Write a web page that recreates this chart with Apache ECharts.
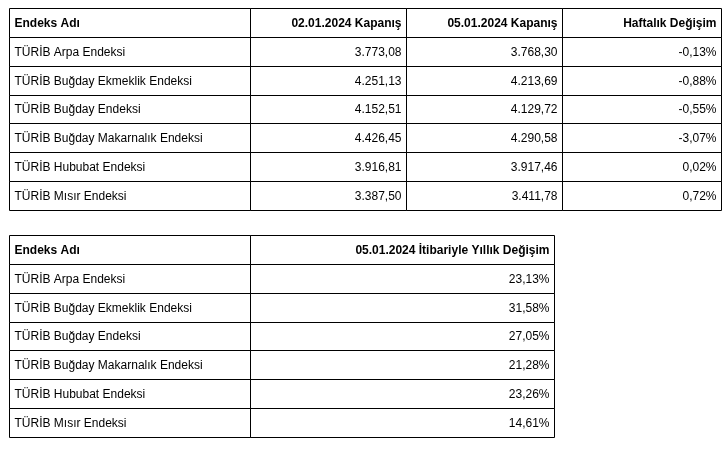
<!DOCTYPE html>
<html>
<head>
<meta charset="utf-8">
<script src="https://cdn.jsdelivr.net/npm/echarts@6/dist/echarts.min.js"></script>
<style>
  body {
    margin: 0;
    background: #fff;
  }

  #tables {
    width: 724px;
    height: 449px;
  }
</style>
</head>
<body>
<div id="tables"></div>
<script>
  // table contents
  const weeklyHeaders = ['Endeks Adı', '02.01.2024 Kapanış', '05.01.2024 Kapanış', 'Haftalık Değişim']
  const yearlyHeaders = ['Endeks Adı', '05.01.2024 İtibariyle Yıllık Değişim']
  const indexNames = [
    'TÜRİB Arpa Endeksi',
    'TÜRİB Buğday Ekmeklik Endeksi',
    'TÜRİB Buğday Endeksi',
    'TÜRİB Buğday Makarnalık Endeksi',
    'TÜRİB Hububat Endeksi',
    'TÜRİB Mısır Endeksi'
  ]
  const close0201 = [3773.08, 4251.13, 4152.51, 4426.45, 3916.81, 3387.50]
  const close0501 = [3768.30, 4213.69, 4129.72, 4290.58, 3917.46, 3411.78]
  const weeklyChange = [-0.13, -0.88, -0.55, -3.07, 0.02, 0.72]
  const yearlyChange = [23.13, 31.58, 27.05, 21.28, 23.26, 14.61]

  // column edges (layout only)
  const weeklyEdges = [0, 241, 397, 553, 712]
  const yearlyEdges = [0, 241, 545]

  const trNum = (v) => {
    const parts = v.toFixed(2).split('.')
    const neg = parts[0].startsWith('-')
    let int = neg ? parts[0].slice(1) : parts[0]
    int = int.replace(/\B(?=(\d{3})+(?!\d))/g, '.')
    return (neg ? '-' : '') + int + ',' + parts[1]
  }
  const trPct = (v) => trNum(v) + '%'

  const buildCells = (headers, columns) => {
    const cells = []
    headers.forEach((h, c) => cells.push({ col: c, row: 0, text: h, head: true }))
    indexNames.forEach((name, r) => {
      cells.push({ col: 0, row: r + 1, text: name, head: false })
      columns.forEach((col, c) => cells.push({ col: c + 1, row: r + 1, text: col[r], head: false }))
    })
    return cells
  }

  const weeklyCells = buildCells(weeklyHeaders, [
    close0201.map(trNum),
    close0501.map(trNum),
    weeklyChange.map(trPct)
  ])
  const yearlyCells = buildCells(yearlyHeaders, [yearlyChange.map(trPct)])

  const cellRenderer = (edges, cells) => (params, api) => {
    const cell = cells[params.dataIndex]
    const p0 = api.coord([edges[cell.col], cell.row])
    const p1 = api.coord([edges[cell.col + 1], cell.row])
    const h = api.size([0, 1])[1]
    const x0 = Math.round(p0[0]) + 0.5
    const x1 = Math.round(p1[0]) + 0.5
    const y0 = Math.round(p0[1] - h / 2) + 0.5
    const y1 = Math.round(p0[1] + h / 2) + 0.5
    const left = cell.col === 0
    return {
      type: 'group',
      children: [{
        type: 'rect',
        shape: { x: x0, y: y0, width: x1 - x0, height: y1 - y0 },
        style: { fill: 'none', stroke: '#000', lineWidth: 1 }
      }, {
        type: 'text',
        style: {
          text: cell.text,
          x: left ? x0 + 5 : x1 - 5,
          y: (y0 + y1) / 2 + 0.5,
          align: left ? 'left' : 'right',
          verticalAlign: 'middle',
          font: (cell.head ? 'bold ' : '') + '12px "Liberation Sans", Arial, sans-serif',
          fill: '#000'
        }
      }]
    }
  }

  const rowLabels = ['header'].concat(indexNames)

  const chart = echarts.init(document.getElementById('tables'))
  chart.setOption({
    animation: false,
    grid: [
      { left: 9, top: 8, width: 712, height: 202 },
      { left: 9, top: 235, width: 545, height: 202 }
    ],
    xAxis: [
      { type: 'value', gridIndex: 0, min: 0, max: 712, show: false },
      { type: 'value', gridIndex: 1, min: 0, max: 545, show: false }
    ],
    yAxis: [
      { type: 'category', gridIndex: 0, data: rowLabels, inverse: true, show: false },
      { type: 'category', gridIndex: 1, data: rowLabels, inverse: true, show: false }
    ],
    series: [{
      type: 'custom',
      xAxisIndex: 0,
      yAxisIndex: 0,
      clip: false,
      renderItem: cellRenderer(weeklyEdges, weeklyCells),
      data: weeklyCells.map(c => [weeklyEdges[c.col], c.row])
    }, {
      type: 'custom',
      xAxisIndex: 1,
      yAxisIndex: 1,
      clip: false,
      renderItem: cellRenderer(yearlyEdges, yearlyCells),
      data: yearlyCells.map(c => [yearlyEdges[c.col], c.row])
    }]
  })
</script>
</body>
</html>
